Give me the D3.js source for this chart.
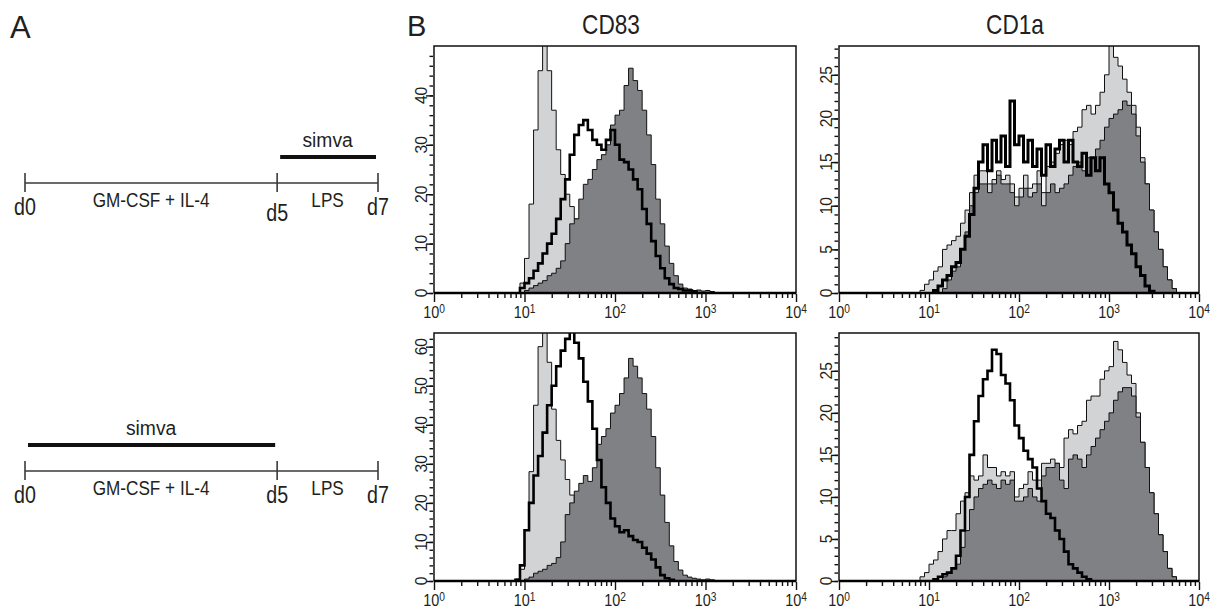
<!DOCTYPE html>
<html>
<head>
<meta charset="utf-8">
<script src="https://cdn.jsdelivr.net/npm/d3@7"></script>
<style>
body { margin: 0; background: #fff; }
text { font-family: "Liberation Sans", Arial, Helvetica, sans-serif; fill: #231f20; }
</style>
</head>
<body>
<svg id="chart" width="1214" height="612"></svg>
<script>
// histogram channels: 20 bins per decade, bin k starts at 10^(k/20)
var BINS_PER_DECADE = 20;

// panel A time line
var days = [0, 5, 7];
var dayLabels = ["d0", "d5", "d7"];
var phaseLabels = ["GM-CSF + IL-4", "LPS"];
var simvaWindows = [[5, 7], [0, 5]];

// axis ticks
var xExponents = [0, 1, 2, 3, 4];
var cd83TopTicks = [0, 10, 20, 30, 40];
var cd83BottomTicks = [0, 10, 20, 30, 40, 50, 60];
var cd1aTicks = [0, 5, 10, 15, 20, 25];

// CD83, simva d5-d7 (light = iDC, dark = LPS, line = LPS + simva)
var cd83TopLightFirst = 19;
var cd83TopLight = [2,7,18,33,45,52,45,37,29,24,20,17.5,15,12.5,10.5,8,6,5,4,3,2.5,2,1.5,1,1,0.5];
var cd83TopDarkFirst = 20;
var cd83TopDark = [0.5,1,1.5,2,2.5,3.5,4,5,6.5,10,14,15,19,22,23,25,27,28,30,34,36,37,42,45.5,43,41,37,32,26,19,14,9.5,6,3.5,1.8,1,0.8,0.5,0.6,0.4,0.5,0.3];
var cd83TopLineFirst = 19;
var cd83TopLine = [1,2,3,4.5,6,8,10,12,15,19,23,28,32,34,35,33,31,30,29,31,33,30,27,26.5,25,23,21,17,14,10.5,7.5,5,3,1.8,1,0.8,0.5,0.5,0.3];

// CD83, simva d0-d5
var cd83BottomLightFirst = 18;
var cd83BottomLight = [0.5,3,13,28,45,60,66,56,44,36,31,26,22,20,16,13,10,8,6,4.5,3,2,1.5,1,0.5];
var cd83BottomDarkFirst = 20;
var cd83BottomDark = [0.5,1,2,2.5,3,4,4.5,6,10,17,20,23,25,27,25.5,29,35,37,39,43,45,48,52,57,55,52,48,44,37,29,22,15,9,5,2.8,1.5,1,0.7,0.5,0.3,0.5,0.3];
var cd83BottomLineFirst = 18;
var cd83BottomLine = [0.3,4,13,20,27,32,38,45,50,55,59,62,64,61,57,51,46,39,31,24,20,16,14,12.5,13,11.5,10.5,10,8.5,7,5.5,3.5,1.5,0.7,0.3];

// CD1a, simva d5-d7
var cd1aTopLightFirst = 18;
var cd1aTopLight = [0.3,1,1.5,2.5,3,5,5.5,6,6.5,8,9.5,11.5,13.5,14,14,12.5,13,14,13,13.5,12.5,11,12,13.5,12,12.5,14,11.5,14.5,15,16,17,17.5,17,18.5,19,21,21.5,20.5,21.5,23,25,29,27,26,24.5,23,21.5,19,15.5,12.5,9.5,7,5,3,1.5,0.5];
var cd1aTopDarkFirst = 23;
var cd1aTopDark = [0.5,1.5,2.5,3,5,7,10,11.5,12.5,12.5,11.5,12.5,13.5,12.5,12.5,11.5,10,11,12,11,11.5,12.5,10,11.5,12.5,11.5,12,12.5,13.5,14.5,15,14,15.5,15.5,16.5,17.5,19,20,20.5,21,22,21.5,20.5,18,15,12.5,9.5,7,5,3,1.5,0.5];
var cd1aTopLineFirst = 21;
var cd1aTopLine = [0.3,0.8,1.5,2,3,3.5,5,6.5,9,12,15,17,14,17.5,15,18,14.5,22,17,18,15,17.5,14.5,16.5,13.5,17,14.5,16.5,17.5,15,17.5,15,14.5,16,13.5,15.5,14,15.5,12.5,11.5,9.5,8,7,5.5,4.5,3,2,0.8,0.2];

// CD1a, simva d0-d5
var cd1aBottomLightFirst = 18;
var cd1aBottomLight = [0.5,1,2,2.5,3.5,5,6,6,8,9.5,10.5,12.5,12,12.5,15,13.5,13.5,12.5,13,12.5,13,10,11,11.5,13,12,12,14,14,14.5,14,13.5,17,18,17.5,18.5,19,21.5,22,22,24,25,25.5,28.5,27.5,26,24.5,23.5,20,16.5,13.5,10.5,8,5.5,3.5,1.5,0.5];
var cd1aBottomDarkFirst = 23;
var cd1aBottomDark = [0.5,1,1.5,2,4,6,8.5,10,11,11.5,12,11.5,11,12,11.5,12,9.5,9.5,10,11,10,9.5,12.5,13.5,13.5,14,12,11,14.5,15,14.5,13.5,15,16,17,18,19,20,21.5,22.5,23,23,22,19.5,16.5,13.5,10.5,8,5.5,3.5,1.5,0.5];
var cd1aBottomLineFirst = 21;
var cd1aBottomLine = [0.2,0.5,0.8,1,1.5,3,6,10,15,19,22,24,25,27.5,27,24.5,23.5,21.5,18.5,17,15.5,14.5,13.5,11,9.5,8,7.5,6,5,3.5,2,1.5,1,0.5,0.2];

var LIGHT = "#d2d3d5", DARK = "#808184";

var svg = d3.select("#chart");

function label(g, x, y, s, size, sx, anchor) {
	return g.append("text")
		.attr("transform", "translate(" + x + "," + y + ") scale(" + sx + ",1)")
		.attr("font-size", size)
		.attr("text-anchor", anchor || "middle")
		.text(s);
}

// ---------- panel A ----------
label(svg, 10, 38, "A", 31, 1, "start");

var dayX = d3.scaleLinear().domain([0, 7]).range([25, 378]);
var schemeRows = [183, 471];

schemeRows.forEach(function(ly, r) {
	var g = svg.append("g");
	g.append("line")
		.attr("x1", dayX(days[0])).attr("x2", dayX(days[2]))
		.attr("y1", ly).attr("y2", ly)
		.attr("stroke", "#3a3a3a").attr("stroke-width", 1.6);
	days.forEach(function(d, i) {
		g.append("line")
			.attr("x1", dayX(d)).attr("x2", dayX(d))
			.attr("y1", ly - 10).attr("y2", ly + 9)
			.attr("stroke", "#3a3a3a").attr("stroke-width", 1.6);
		var extra = (r == 0 && i == 1) ? 6 : 0;
		label(g, dayX(d), ly + 32 + extra, dayLabels[i], 24, 0.82);
	});
	for (var i = 0; i < phaseLabels.length; i++) {
		label(g, dayX((days[i] + days[i + 1]) / 2), ly + 24, phaseLabels[i], 19.5, 0.88);
	}
	var w = simvaWindows[r];
	g.append("line")
		.attr("x1", dayX(w[0]) + 3).attr("x2", dayX(w[1]) - 2)
		.attr("y1", ly - 26).attr("y2", ly - 26)
		.attr("stroke", "#111").attr("stroke-width", 4);
	label(g, dayX((w[0] + w[1]) / 2), ly - 36, "simva", 21, 0.92);
});

// ---------- panel B ----------
label(svg, 407, 36, "B", 29, 1, "start");

var cols = [[434, 796], [839, 1199]];
var rows = [[46, 293], [333, 581]];

var panels = [
	{ title: "CD83", c: 0, r: 0, yMax: 50, ticks: cd83TopTicks, minor: 2,
	  light: [cd83TopLightFirst, cd83TopLight], dark: [cd83TopDarkFirst, cd83TopDark], line: [cd83TopLineFirst, cd83TopLine] },
	{ title: null, c: 0, r: 1, yMax: 63.5, ticks: cd83BottomTicks, minor: 2,
	  light: [cd83BottomLightFirst, cd83BottomLight], dark: [cd83BottomDarkFirst, cd83BottomDark], line: [cd83BottomLineFirst, cd83BottomLine] },
	{ title: "CD1a", c: 1, r: 0, yMax: 28.3, ticks: cd1aTicks, minor: 1,
	  light: [cd1aTopLightFirst, cd1aTopLight], dark: [cd1aTopDarkFirst, cd1aTopDark], line: [cd1aTopLineFirst, cd1aTopLine] },
	{ title: null, c: 1, r: 1, yMax: 29.5, ticks: cd1aTicks, minor: 1,
	  light: [cd1aBottomLightFirst, cd1aBottomLight], dark: [cd1aBottomDarkFirst, cd1aBottomDark], line: [cd1aBottomLineFirst, cd1aBottomLine] }
];

var minorX = [];
for (var e = 0; e < 4; e++) for (var m = 2; m < 10; m++) minorX.push(m * Math.pow(10, e));
var majorX = xExponents.map(function(k) { return Math.pow(10, k); });

function stepPoints(first, values) {
	var pts = [[first, 0]];
	values.forEach(function(v, i) { pts.push([first + i, v]); });
	pts.push([first + values.length, 0]);
	return pts;
}

function tickStyle(g) {
	g.select(".domain").remove();
	g.selectAll("line").attr("stroke", "#111").attr("stroke-width", 1.4);
	g.selectAll("text").remove();
}

panels.forEach(function(p, pi) {
	var x0 = cols[p.c][0], x1 = cols[p.c][1];
	var y0 = rows[p.r][0], y1 = rows[p.r][1];
	var x = d3.scaleLog().domain([1, 10000]).range([x0, x1]);
	var y = d3.scaleLinear().domain([0, p.yMax]).range([y1, y0]);

	var clipId = "clip" + pi;
	svg.append("clipPath").attr("id", clipId)
		.append("rect").attr("x", x0).attr("y", y0).attr("width", x1 - x0).attr("height", y1 - y0);

	var line = d3.line()
		.x(function(d) { return x(Math.pow(10, d[0] / BINS_PER_DECADE)); })
		.y(function(d) { return y(d[1]); })
		.curve(d3.curveStepAfter);

	var g = svg.append("g").attr("clip-path", "url(#" + clipId + ")");
	g.append("path").attr("d", line(stepPoints(p.light[0], p.light[1])))
		.attr("fill", LIGHT).attr("stroke", "#111").attr("stroke-width", 1);
	g.append("path").attr("d", line(stepPoints(p.dark[0], p.dark[1])))
		.attr("fill", DARK).attr("stroke", "#111").attr("stroke-width", 1);
	g.append("path").attr("d", line(stepPoints(p.line[0], p.line[1])))
		.attr("fill", "none").attr("stroke", "#000").attr("stroke-width", p.c == 1 && p.r == 0 ? 3 : 2.6);

	// frame
	svg.append("rect").attr("x", x0).attr("y", y0).attr("width", x1 - x0).attr("height", y1 - y0)
		.attr("fill", "none").attr("stroke", "#111").attr("stroke-width", 1.5);
	svg.append("line").attr("x1", x0).attr("x2", x1).attr("y1", y1).attr("y2", y1)
		.attr("stroke", "#000").attr("stroke-width", 2.6);

	// y axis ticks
	var minorY = d3.range(0, p.yMax, p.minor);
	svg.append("g").attr("transform", "translate(" + (x0 - 1) + ",0)")
		.call(d3.axisLeft(y).tickValues(minorY).tickSize(3.5).tickSizeOuter(0))
		.call(tickStyle);
	svg.append("g").attr("transform", "translate(" + (x0 - 1) + ",0)")
		.call(d3.axisLeft(y).tickValues(p.ticks).tickSize(7).tickSizeOuter(0))
		.call(tickStyle);
	p.ticks.forEach(function(t) {
		svg.append("text")
			.attr("transform", "translate(" + (x0 - 13) + "," + y(t) + ") rotate(-90) scale(0.92,1)")
			.attr("dy", "0.36em")
			.attr("text-anchor", "middle")
			.attr("font-size", 17)
			.text(t);
	});

	// x axis ticks
	svg.append("g").attr("transform", "translate(0," + (y1 + 1) + ")")
		.call(d3.axisBottom(x).tickValues(minorX).tickSize(4).tickSizeOuter(0))
		.call(tickStyle);
	svg.append("g").attr("transform", "translate(0," + (y1 + 1) + ")")
		.call(d3.axisBottom(x).tickValues(majorX).tickSize(8).tickSizeOuter(0))
		.call(tickStyle);
	xExponents.forEach(function(k) {
		var t = svg.append("text")
			.attr("transform", "translate(" + x(Math.pow(10, k)) + "," + (y1 + 25) + ") scale(0.85,1)")
			.attr("text-anchor", "middle")
			.attr("font-size", 17)
			.text("10");
		t.append("tspan").attr("dy", "-0.45em").attr("font-size", 12).text(k);
	});

	if (p.title) label(svg, (x0 + x1) / 2 - 4, 34, p.title, 27, 0.84);
});
</script>
</body>
</html>
